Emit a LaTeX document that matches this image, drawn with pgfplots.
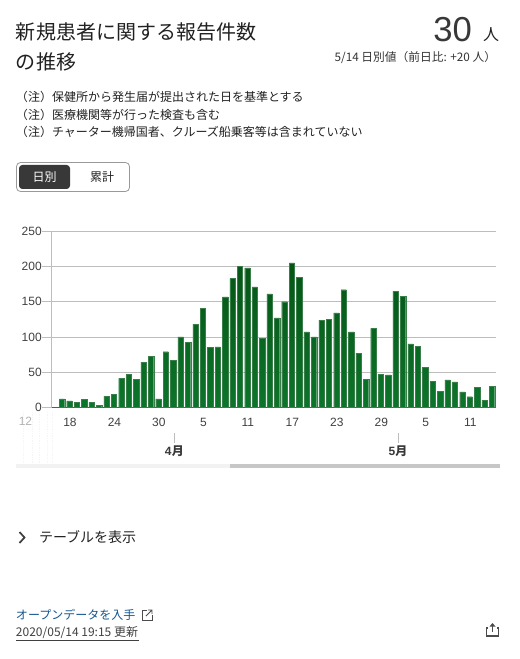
\documentclass[border=0pt]{standalone}
\usepackage{pgfplots}
\pgfplotsset{compat=1.18}
\usepackage{fontspec}
\setmainfont{Noto Sans CJK JP}
\newfontfamily\lat{Liberation Sans}
\definecolor{gridc}{HTML}{BDBDBD}
\definecolor{txt}{HTML}{212121}
\definecolor{bartop}{HTML}{065516}
\definecolor{barbot}{HTML}{0B752B}
\definecolor{baredge}{HTML}{3A7F4A}
\newcommand{\fs}[1]{\fontsize{#1}{#1}\selectfont}
\begin{document}
\begin{tikzpicture}[x=0.75pt,y=-0.75pt,every node/.style={inner sep=0pt,outer sep=0pt}]
\path (0,0) rectangle (520,659);
\begin{axis}[
  at={(38.775pt,-305.475pt)},anchor=south west,
  scale only axis,width=333pt,height=132pt,
  xmin=-1.39,xmax=58.5,ymin=0,ymax=250,
  ytick={0,50,100,150,200,250},
  xtick={1,7,13,19,25,31,37,43,49,55},
  xticklabels={18,24,30,5,11,17,23,29,5,11},
  ymajorgrids,
  grid style={draw=gridc,line width=0.6pt},
  axis x line*=bottom,axis y line*=left,
  x axis line style={draw=black!65,-,line width=0.6pt},
  y axis line style={draw=gridc,-,line width=0.6pt},
  tick align=outside,
  x tick style={draw=none},
  y tick style={draw=gridc,line width=0.6pt},
  major tick length=7pt,
  /pgf/number format/assume math mode=true,
  tick label style={font=\lat\fs{9},text=black!75},
  xticklabel style={yshift=-1pt,xshift=0.4pt},
  yticklabel style={xshift=-0.5pt},
  clip=false,
]
\addplot[ybar,bar width=0.72,draw=baredge,line width=0.2pt,top color=bartop,bottom color=barbot] table[row sep=\\]{
x y\\
0 12\\1 9\\2 7\\3 11\\4 7\\5 3\\6 16\\7 18\\8 41\\9 47\\10 40\\11 64\\12 72\\13 12\\14 79\\
15 67\\16 100\\17 92\\18 118\\19 141\\20 85\\21 86\\22 157\\23 183\\24 200\\25 198\\26 171\\27 98\\28 161\\29 127\\
30 150\\31 205\\32 185\\33 107\\34 100\\35 124\\36 125\\37 134\\38 167\\39 107\\40 77\\41 40\\42 112\\43 47\\44 46\\
45 165\\46 158\\47 90\\48 87\\49 57\\50 37\\51 23\\52 39\\53 36\\54 22\\55 15\\56 28\\57 10\\58 30\\
};
\end{axis}
% faint history lines
\draw[black!4,line width=0.3pt,densely dotted] (23,412)--(23,463) (32,412)--(32,463) (39,412)--(39,463) (47,412)--(47,463) (52,412)--(52,463);
% month ticks
\draw[gridc,line width=0.6pt] (174.3,433)--(174.3,443) (398,433)--(398,443);
\node[font=\lat\bfseries\fs{9},text=black!78] at (174.3,451) {4\hspace{0.2pt}\rmfamily 月};
\node[font=\lat\bfseries\fs{9},text=black!78] at (398,451) {5\hspace{0.2pt}\rmfamily 月};
\node[font=\lat\fs{9},text=black!30] at (25.5,421) {12};
% scroll strip
\fill[black!5] (16,464) rectangle (230,468);
\fill[black!22] (230,464) rectangle (500,468);
% header
\node[anchor=west,text=txt,font=\fs{15}] at (16,32) {新規患者に関する報告件数};
\node[anchor=west,text=txt,font=\fs{15}] at (16,62) {の推移};
\node[anchor=east,text=black!78,font=\lat\fs{26}] at (472,30) {30};
\node[anchor=center,text=txt,font=\fs{12}] at (491,35) {人};
\node[anchor=east,text=black!80,font=\fs{8.8}] at (496,58) {5/14 日別値（前日比: +20 人）};
\node[anchor=west,text=txt,font=\fs{9}] at (16,97) {（注）保健所から発生届が提出された日を基準とする};
\node[anchor=west,text=txt,font=\fs{9}] at (16,115) {（注）医療機関等が行った検査も含む};
\node[anchor=west,text=txt,font=\fs{9}] at (16,132) {（注）チャーター機帰国者、クルーズ船乗客等は含まれていない};
% buttons
\draw[black!40,line width=0.6pt,rounded corners=3pt] (16.5,162.5) rectangle (129.5,191.5);
\fill[black!78,rounded corners=2.5pt] (19,165) rectangle (70,189);
\node[text=white,font=\fs{9}] at (44.5,177) {日別};
\node[text=txt,font=\fs{9}] at (102,177) {累計};
% footer
\draw[black!75,line width=1.3pt] (19.5,532)--(24.5,537.5)--(19.5,543);
\node[anchor=west,text=txt,font=\fs{10.5}] at (39,537) {テーブルを表示};
\node[anchor=west,text={rgb,255:red,21;green,85;blue,145},font=\fs{9}] at (16,615) {オープンデータを入手};
\draw[black!70,line width=0.6pt] (147,610)--(142,610)--(142,620)--(152,620)--(152,615);
\draw[black!70,line width=0.6pt] (146,616)--(152,610) (148,610)--(152,610)--(152,614);
\node[anchor=west,text=black!75,font=\fs{9}] (upd) at (16,633) {2020/05/14 19:15 更新};
\draw[black!75,line width=0.5pt] (16,640)--(139,640);
\draw[black!70,line width=1pt] (488,628)--(486.5,628)--(486.5,636)--(498.5,636)--(498.5,628)--(497,628);
\draw[black!70,line width=1.2pt] (492.5,632)--(492.5,624);
\fill[black!70] (489.5,626.5)--(492.5,623)--(495.5,626.5)--cycle;
\end{tikzpicture}
\end{document}
